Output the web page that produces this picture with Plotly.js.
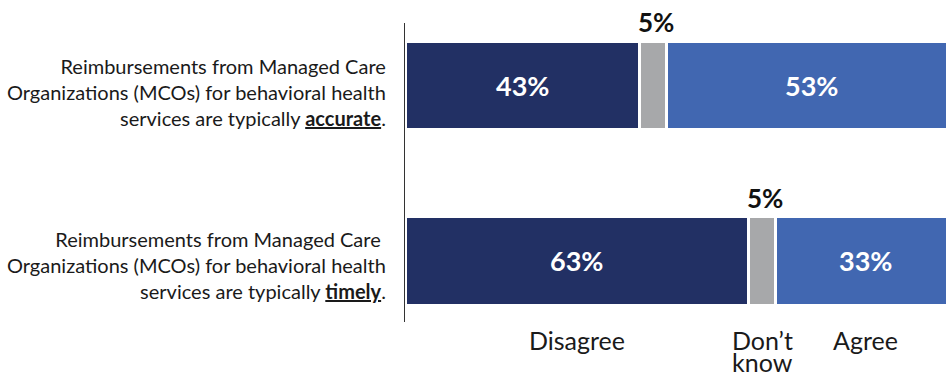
<!DOCTYPE html>
<html>
<head>
<meta charset="utf-8">
<script src="https://cdn.plot.ly/plotly-3.0.1.min.js"></script>
<style>
html,body{margin:0;padding:0;background:#fff;}
#chart{width:946px;height:374px;}
</style>
</head>
<body>
<div id="chart"></div>
<script>
// ---- data ----
var categories = [
  "Reimbursements from Managed Care<br>Organizations (MCOs) for behavioral health<br>services are typically <b><u>accurate</u></b>.",
  "Reimbursements from Managed Care <br>Organizations (MCOs) for behavioral health<br>services are typically <b><u>timely</u></b>."
];
var seriesNames = ["Disagree", "Don\u2019t<br>know", "Agree"];
var disagree = [43, 63];
var dontKnow = [5, 5];
var agree = [53, 33];
var colors = ["#223064", "#A7A8AA", "#4167B1"];

var FONT = "Lato, 'Open Sans', sans-serif";
var yIdx = [0, 1];
var barW = 0.505;

function bar(vals, i) {
  return {
    type: 'bar', orientation: 'h', y: yIdx, x: vals,
    name: seriesNames[i].replace('<br>', ' '),
    width: barW,
    marker: {color: colors[i], line: {color: '#ffffff', width: 3}},
    hoverinfo: 'skip', showlegend: false
  };
}
var traces = [bar(disagree, 0), bar(dontKnow, 1), bar(agree, 2)];

var ann = [];
// category labels
var catY = [0.035, 1.022];
categories.forEach(function (c, i) {
  ann.push({xref: 'paper', yref: 'y', x: -0.031, y: catY[i], xanchor: 'right', yanchor: 'middle',
    align: 'right', text: c, showarrow: false, font: {family: FONT, size: 20, color: '#1a1a1a'}});
});
// value labels
yIdx.forEach(function (yy, i) {
  ann.push({xref: 'x', yref: 'y', x: disagree[i] / 2, y: yy, text: '<b>' + disagree[i] + '%</b>',
    showarrow: false, font: {family: FONT, size: 27, color: '#ffffff'}});
  ann.push({xref: 'x', yref: 'y', x: disagree[i] + dontKnow[i] + agree[i] / 2, y: yy, text: '<b>' + agree[i] + '%</b>',
    showarrow: false, font: {family: FONT, size: 27, color: '#ffffff'}});
  ann.push({xref: 'x', yref: 'y', x: disagree[i] + dontKnow[i] / 2, y: yy - barW / 2, yanchor: 'bottom', yshift: 1, xshift: 3,
    text: '<b>' + dontKnow[i] + '%</b>', showarrow: false, font: {family: FONT, size: 26, color: '#111111'}});
});
// series labels under the second bar (one annotation per text line)
var last = 1;
var legendX = [disagree[last] / 2, disagree[last] + dontKnow[last] / 2, disagree[last] + dontKnow[last] + agree[last] / 2];
var lineY = [-0.060, -0.134];
seriesNames.forEach(function (n, i) {
  n.split('<br>').forEach(function (line, k) {
    ann.push({xref: 'x', yref: 'paper', x: legendX[i], y: lineY[k], yanchor: 'middle', text: line, showarrow: false,
      font: {family: FONT, size: 25, color: '#1a1a1a'}});
  });
});

var layout = {
  width: 946, height: 374,
  margin: {l: 405, r: 0, t: 23, b: 52, pad: 0},
  paper_bgcolor: '#ffffff', plot_bgcolor: '#ffffff',
  barmode: 'stack', bargap: 0,
  showlegend: false,
  xaxis: {range: [0, 99.2], showgrid: false, zeroline: false, showticklabels: false, showline: false, ticks: ''},
  yaxis: {range: [1.348, -0.357], showgrid: false, zeroline: false, showticklabels: false, ticks: '',
    showline: true, linecolor: '#333333', linewidth: 1.5},
  annotations: ann
};

Plotly.newPlot('chart', traces, layout, {displayModeBar: false, staticPlot: true});
</script>
</body>
</html>
